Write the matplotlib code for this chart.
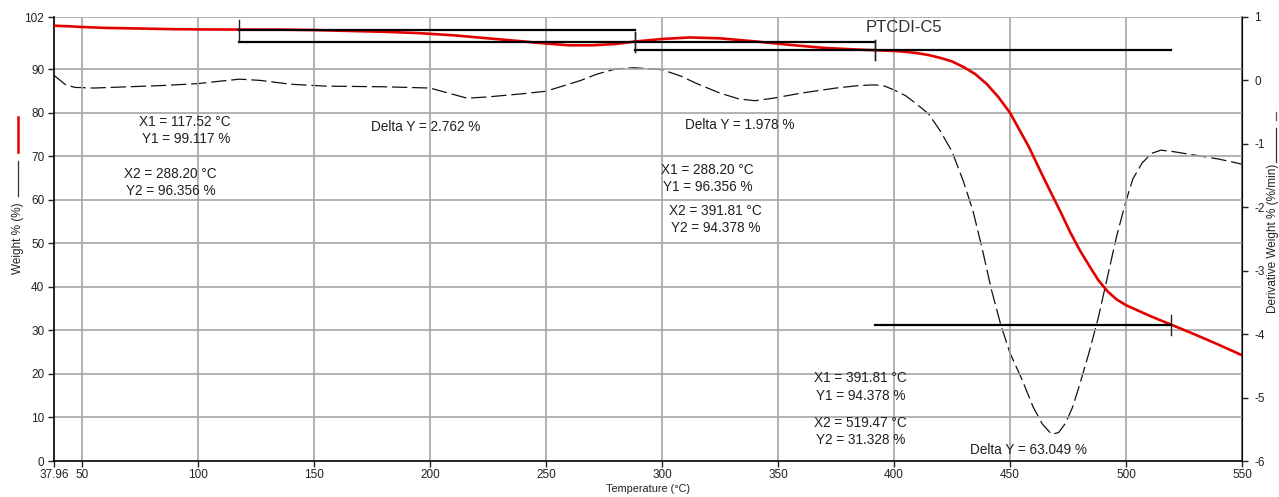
import matplotlib
matplotlib.use("Agg")
import matplotlib.pyplot as plt
from matplotlib.lines import Line2D

plt.rcParams['font.family'] = ['Liberation Sans', 'DejaVu Sans']
plt.rcParams['lines.scale_dashes'] = False

# Weight % curve (left axis)
temp_w = [37.96, 45, 50, 60, 75, 90, 100, 117.52, 135, 150, 165, 180, 195, 210, 225,
          240, 250, 260, 270, 280, 288.2, 300, 312, 325, 340, 355, 370, 385, 391.81,
          400, 405, 410, 415, 420, 425, 430, 435, 440, 445, 450, 458, 465, 472, 476,
          480, 484, 488, 492, 496, 500, 505, 510, 515, 519.47, 530, 540, 550]
weight = [100.0, 99.85, 99.7, 99.5, 99.35, 99.2, 99.15, 99.117, 99.1, 99.0, 98.8, 98.6,
          98.3, 97.8, 97.1, 96.4, 95.9, 95.5, 95.5, 95.8, 96.356, 96.95, 97.3, 97.1,
          96.4, 95.6, 94.9, 94.5, 94.378, 94.2, 94.0, 93.7, 93.25, 92.6, 91.8, 90.5,
          88.9, 86.6, 83.6, 80.0, 72.3, 64.5, 57.0, 52.5, 48.5, 45.0, 41.6, 39.0, 37.1,
          35.8, 34.6, 33.4, 32.3, 31.328, 29.0, 26.7, 24.3]

# Derivative weight curve (right axis)
temp_d = [37.96, 40, 43, 47, 55, 70, 85, 100, 110, 118, 127, 140, 155, 180, 200, 208,
          216, 225, 240, 250, 258, 265, 272, 280, 288, 300, 308, 315, 325, 333, 340,
          348, 360, 375, 385, 392, 396, 400, 405, 410, 415, 420, 425, 430, 434, 438,
          442, 446, 450, 455, 460, 464, 468, 471, 474, 477, 480, 484, 488, 492, 496,
          500, 503, 507, 511, 515, 520, 530, 540, 550]
deriv = [0.08, 0.02, -0.07, -0.11, -0.12, -0.1, -0.08, -0.05, -0.01, 0.02, 0.0, -0.06,
         -0.09, -0.1, -0.12, -0.2, -0.28, -0.26, -0.21, -0.17, -0.08, 0.0, 0.1, 0.18,
         0.2, 0.17, 0.07, -0.05, -0.2, -0.29, -0.32, -0.28, -0.2, -0.12, -0.08, -0.07,
         -0.09, -0.15, -0.24, -0.38, -0.53, -0.8, -1.12, -1.6, -2.05, -2.65, -3.3,
         -3.85, -4.3, -4.7, -5.15, -5.42, -5.58, -5.55, -5.4, -5.15, -4.8, -4.3, -3.75,
         -3.1, -2.45, -1.9, -1.55, -1.3, -1.15, -1.1, -1.12, -1.18, -1.24, -1.32]

# step analysis cursors
steps = [
    (117.52, 99.117, 288.20, 96.356),
    (288.20, 96.356, 391.81, 94.378),
    (391.81, 94.378, 519.47, 31.328),
]
delta_y = [2.762, 1.978, 63.049]

x_ticks = [37.96, 50, 100, 150, 200, 250, 300, 350, 400, 450, 500, 550]
x_ticklabels = ['37.96', '50', '100', '150', '200', '250', '300', '350', '400', '450', '500', '550']
y_ticks = [0, 10, 20, 30, 40, 50, 60, 70, 80, 90, 102]
y2_ticks = [1, 0, -1, -2, -3, -4, -5, -6]

fig = plt.figure(figsize=(12.79, 4.97), dpi=100)
ax = fig.add_axes([54 / 1279, 1 - 461 / 497, 1188 / 1279, 444 / 497])
ax2 = ax.twinx()

ax.set_xlim(37.96, 550)
ax.set_ylim(0, 102)
ax2.set_ylim(-6, 1)

# grid
grid_c = '#a6a6a6'
for xv in x_ticks[1:-1]:
    ax.axvline(xv, color=grid_c, lw=1.2, zorder=0)
for yv in y_ticks[1:]:
    ax.axhline(yv, color=grid_c, lw=1.2, zorder=0)

ax2.plot(temp_d, deriv, color='#111111', lw=0.9, dashes=(11, 3.5), zorder=2)
ax.plot(temp_w, weight, color='#e30000', lw=1.9, zorder=3)

# step lines
tick_h = 2.3
for x1, y1, x2, y2 in steps:
    ax.plot([x1, x2], [y1, y1], color='black', lw=1.6, zorder=4)
    ax.plot([x1, x2], [y2, y2], color='black', lw=1.6, zorder=4)
    ax.plot([x1, x1], [y1 - tick_h, y1 + tick_h], color='#222222', lw=1.0, zorder=4)
    ax.plot([x2, x2], [y2 - tick_h, y2 + tick_h], color='#222222', lw=1.0, zorder=4)

# weight axis on top so red + step lines cover the dashed curve
ax.set_zorder(2)
ax2.set_zorder(1)
ax.patch.set_visible(False)

# annotations
tc = '#202020'
fs = 9.8
def txt(px, py, s, ha='center'):
    fig.text(px / 1279, 1 - py / 497, s, ha=ha, va='center', fontsize=fs, color=tc)

txt(185, 122, 'X1 = 117.52 °C')
txt(186, 139, 'Y1 = 99.117 %')
txt(170, 174, 'X2 = 288.20 °C')
txt(171, 191, 'Y2 = 96.356 %')
txt(426, 127, 'Delta Y = %.3f %%' % delta_y[0])
txt(740, 125, 'Delta Y = %.3f %%' % delta_y[1])
txt(707, 170, 'X1 = 288.20 °C')
txt(708, 187, 'Y1 = 96.356 %')
txt(715, 211, 'X2 = 391.81 °C')
txt(716, 228, 'Y2 = 94.378 %')
txt(860, 378, 'X1 = 391.81 °C')
txt(861, 396, 'Y1 = 94.378 %')
txt(860, 423, 'X2 = 519.47 °C')
txt(861, 440, 'Y2 = 31.328 %')
txt(1029, 450, 'Delta Y = %.3f %%' % delta_y[2])
fig.text(904 / 1279, 1 - 27 / 497, 'PTCDI-C5', ha='center', va='center', fontsize=12, color='#303030')

# axes styling
ax.set_xticks(x_ticks)
ax.set_xticklabels(x_ticklabels)
ax.set_yticks(y_ticks)
ax2.set_yticks(y2_ticks)
ax2.set_yticklabels(['1', '0', '-1', '-2', '-3', '-4', '-5', '-6'])
for a in (ax, ax2):
    a.tick_params(labelsize=8.5, colors='#222222', length=4, width=1, direction='out')
ax.tick_params(axis='x', pad=2)
ax.tick_params(axis='y', pad=3)
ax2.tick_params(axis='y', pad=5)
for a in (ax, ax2):
    a.spines['top'].set_visible(False)
ax.spines['left'].set_color('black')
ax.spines['bottom'].set_color('black')
ax.spines['left'].set_linewidth(1.2)
ax.spines['bottom'].set_linewidth(1.2)
ax2.spines['right'].set_color('#555555')
ax2.spines['right'].set_linewidth(1.2)
ax2.spines['left'].set_visible(False)
ax2.spines['bottom'].set_visible(False)

ax.set_xlabel('Temperature (°C)', fontsize=7.8, color='#222222', labelpad=2)

# y labels with legend marks
fig.text(18 / 1279, 1 - 238 / 497, 'Weight % (%)', rotation=90, ha='center', va='center',
         fontsize=8.5, color='#222222')
fig.add_artist(Line2D([18 / 1279] * 2, [1 - 117 / 497, 1 - 152 / 497], color='#e30000', lw=1.8,
                      transform=fig.transFigure))
fig.add_artist(Line2D([18 / 1279] * 2, [1 - 161 / 497, 1 - 196 / 497], color='#333333', lw=0.9,
                      transform=fig.transFigure))
fig.text(1273 / 1279, 1 - 238 / 497, 'Derivative Weight % (%/min)', rotation=90, ha='center',
         va='center', fontsize=8.5, color='#222222')
fig.add_artist(Line2D([1276 / 1279] * 2, [1 - 128 / 497, 1 - 162 / 497], color='#333333', lw=0.9,
                      transform=fig.transFigure))
fig.add_artist(Line2D([1276 / 1279] * 2, [1 - 112 / 497, 1 - 120 / 497], color='#555555', lw=0.9,
                      transform=fig.transFigure))

fig.savefig('out.png', dpi=100, facecolor='white')
